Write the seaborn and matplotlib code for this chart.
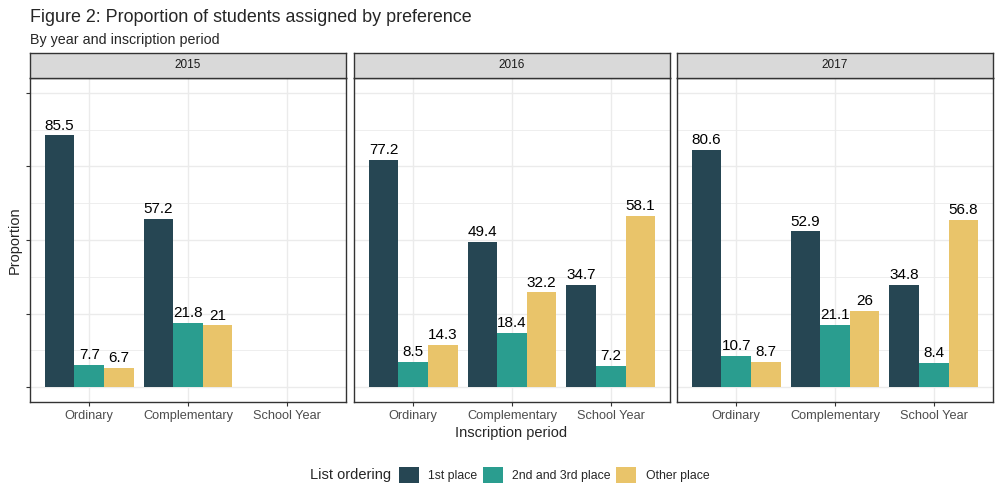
import numpy as np
import pandas as pd
import seaborn as sns
import matplotlib.pyplot as plt
from matplotlib.patches import Patch
from matplotlib.ticker import MultipleLocator

years = ["2015", "2016", "2017"]
periods = ["Ordinary", "Complementary", "School Year"]
orders = ["1st place", "2nd and 3rd place", "Other place"]
colores = ["#264653", "#2A9D8F", "#E9C46A"]

# valores por año: [periodo][orden]
v2015 = [[85.5, 7.7, 6.7], [57.2, 21.8, 21.0], [np.nan, np.nan, np.nan]]
v2016 = [[77.2, 8.5, 14.3], [49.4, 18.4, 32.2], [34.7, 7.2, 58.1]]
v2017 = [[80.6, 10.7, 8.7], [52.9, 21.1, 26.0], [34.8, 8.4, 56.8]]

rows = []
for y, vals in zip(years, [v2015, v2016, v2017]):
    for p, fila in zip(periods, vals):
        for o, v in zip(orders, fila):
            if not np.isnan(v):
                rows.append({"year": y, "period": p, "order": o, "value": v})
df = pd.DataFrame(rows)

sns.set_style("white")
plt.rcParams["font.family"] = ["Liberation Sans", "DejaVu Sans"]

fig = plt.figure(figsize=(10, 5), dpi=100)
W, H = 1000, 500
lefts = [30, 354, 677]
pw = 316
top_px, bot_px, strip_top = 78, 402, 53

for i, y in enumerate(years):
    ax = fig.add_axes([lefts[i] / W, 1 - bot_px / H, pw / W, (bot_px - top_px) / H])
    sub = df[df.year == y]
    sns.barplot(data=sub, x="period", y="value", hue="order", order=periods,
                hue_order=orders, palette=colores, width=0.9, saturation=1,
                legend=False, ax=ax, zorder=3, errorbar=None,
                linewidth=0, edgecolor="none")
    for c in ax.containers:
        ax.bar_label(c, fmt="{:g}", padding=2, fontsize=11, color="black", zorder=4)
    ax.set_xlim(-0.6, 2.6)
    ax.set_ylim(-5, 105)
    ax.yaxis.set_major_locator(MultipleLocator(25))
    ax.yaxis.set_minor_locator(MultipleLocator(12.5))
    ax.grid(True, which="major", color="#EBEBEB", lw=1.0, zorder=0)
    ax.grid(True, which="minor", axis="y", color="#EBEBEB", lw=0.6, zorder=0)
    ax.set_axisbelow(True)
    ax.set_xlabel("")
    ax.set_ylabel("")
    for s in ax.spines.values():
        s.set_color("#333333")
        s.set_linewidth(1.0)
    ax.tick_params(axis="x", length=3, color="#333333", labelsize=9.2,
                   labelcolor="#4D4D4D", bottom=True, pad=3)
    ax.tick_params(axis="y", which="minor", length=0)
    if i == 0:
        ax.tick_params(axis="y", which="major", length=3, color="#333333", left=True)
    else:
        ax.tick_params(axis="y", which="major", length=0, left=False)
    ax.set_yticklabels([])
    # franja del panel
    sax = fig.add_axes([lefts[i] / W, 1 - top_px / H, pw / W, (top_px - strip_top) / H])
    sax.set_facecolor("#D9D9D9")
    sax.set_xticks([])
    sax.set_yticks([])
    for s in sax.spines.values():
        s.set_color("#333333")
        s.set_linewidth(1.0)
    sax.text(0.5, 0.5, y, ha="center", va="center", fontsize=8.5, color="#1A1A1A",
             transform=sax.transAxes)

fig.text(30 / W, 1 - 17 / H, "Figure 2: Proportion of students assigned by preference",
         fontsize=12.9, va="center", ha="left")
fig.text(30 / W, 1 - 40 / H, "By year and inscription period",
         fontsize=10.3, va="center", ha="left")
fig.text(15 / W, 1 - 240 / H, "Proportion", rotation=90, fontsize=10.5,
         va="center", ha="center")
fig.text(511 / W, 1 - 433 / H, "Inscription period", fontsize=10.5,
         va="center", ha="center")

fig.text(391 / W, 1 - 475 / H, "List ordering", fontsize=10.5, va="center", ha="right")
handles = [Patch(facecolor=c, edgecolor="none") for c in colores]
fig.legend(handles, orders, loc="center left", bbox_to_anchor=(399 / W, 1 - 475 / H),
           ncol=3, frameon=False, fontsize=8.8, handlelength=1.65, handleheight=1.65,
           handletextpad=0.75, columnspacing=0.45, borderaxespad=0, borderpad=0)

fig.savefig("out.png", dpi=100)
